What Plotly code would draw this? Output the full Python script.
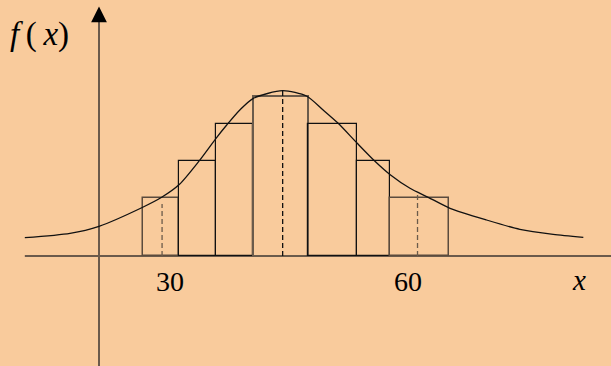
import plotly.graph_objects as go

# ---- data ----
bin_edges = [26.6, 31.1, 35.8, 40.5, 47.4, 53.6, 57.7, 65.2]
bin_heights = [0.58, 0.95, 1.32, 1.60, 1.32, 0.95, 0.58]
bar_line_colors = ["#5b4b3d", "#111111", "#111111", "#6b5b4b", "#111111", "#111111", "#5b4b3d"]
bar_line_widths = [1.5, 1.2, 1.2, 2.0, 1.2, 1.2, 1.5]

curve_x = [11.7, 17.4, 21.05, 26.5, 28.95, 31.2, 33.6, 35.8, 37.15, 38.8, 40.5, 44.2,
           47.2, 49.3, 51.2, 53.6, 55.8, 57.8, 60.25, 62.55, 65.3, 69.9, 74.1, 78.3, 82.1]
curve_y = [0.183, 0.227, 0.297, 0.485, 0.587, 0.717, 0.943, 1.177, 1.31, 1.46, 1.577, 1.653,
           1.60, 1.46, 1.327, 1.127, 0.95, 0.81, 0.677, 0.587, 0.477, 0.36, 0.267, 0.217, 0.187]

dash_x = [29.0, 44.2, 61.2]
dash_top = [0.52, 1.65, 0.63]
dash_colors = ["#6b5b4b", "#111111", "#6b5b4b"]

tick_vals = [30, 60]
tick_labels = ["30", "60"]

axis_origin_x = 21.05
x_range = [8.571, 85.588]
y_range = [-1.10, 2.56]

BG = "#F9CB9C"
AXIS_COLOR = "#6b5a4b"
FONT = "Liberation Serif, Times New Roman, serif"

fig = go.Figure()

# histogram bars
centers = [(a + b) / 2 for a, b in zip(bin_edges[:-1], bin_edges[1:])]
widths = [b - a for a, b in zip(bin_edges[:-1], bin_edges[1:])]
fig.add_trace(go.Bar(
    x=centers, y=bin_heights, width=widths, base=0,
    marker=dict(color="rgba(0,0,0,0)",
                line=dict(color=bar_line_colors, width=bar_line_widths)),
    hoverinfo="skip",
))

# dashed lines
for xv, top, col in zip(dash_x, dash_top, dash_colors):
    fig.add_trace(go.Scatter(
        x=[xv, xv], y=[0, top], mode="lines",
        line=dict(color=col, width=1.3, dash="5px,3px"), hoverinfo="skip",
    ))

# density curve
fig.add_trace(go.Scatter(
    x=curve_x, y=curve_y, mode="lines",
    line=dict(color="#111111", width=1.3, shape="spline", smoothing=0.7),
    hoverinfo="skip",
))

# axes lines
fig.add_shape(type="line", x0=curve_x[0], x1=x_range[1] + 2, y0=0, y1=0,
              line=dict(color=AXIS_COLOR, width=2), layer="below")
fig.add_shape(type="line", x0=axis_origin_x, x1=axis_origin_x, y0=y_range[0] - 0.2, y1=2.40,
              line=dict(color=AXIS_COLOR, width=2), layer="below")

# arrow heads
fig.add_annotation(x=axis_origin_x, y=2.495, xref="x", yref="y", ax=0, ay=12,
                   showarrow=True, arrowhead=2, arrowsize=2.1, arrowwidth=1.5,
                   arrowcolor="black", text="")
fig.add_annotation(x=1.014, y=0, xref="paper", yref="y", ax=-12, ay=0,
                   showarrow=True, arrowhead=2, arrowsize=2.1, arrowwidth=1.5,
                   arrowcolor="black", text="")

# tick labels
for v, lab in zip(tick_vals, tick_labels):
    fig.add_annotation(x=v, y=-0.255, xref="x", yref="y", text=lab, showarrow=False,
                       font=dict(family=FONT, size=28, color="black"))

# axis titles
fig.add_annotation(x=81.55, y=-0.235, xref="x", yref="y", text="<i>x</i>", showarrow=False,
                   font=dict(family=FONT, size=29, color="black"))
fig.add_annotation(x=13.6, y=2.22, xref="x", yref="y",
                   text="<i>f</i>\u2009(\u2009<i>x</i>)",
                   showarrow=False, font=dict(family=FONT, size=33, color="black"))

fig.update_layout(
    width=611, height=366,
    margin=dict(l=0, r=0, t=0, b=0),
    paper_bgcolor=BG, plot_bgcolor=BG,
    showlegend=False,
    xaxis=dict(visible=False, range=x_range, fixedrange=True),
    yaxis=dict(visible=False, range=y_range, fixedrange=True),
    bargap=0,
)

fig.write_html("out.html", config={"displayModeBar": False},
               post_script="document.body.style.margin='0';document.body.style.background='%s';" % BG)
